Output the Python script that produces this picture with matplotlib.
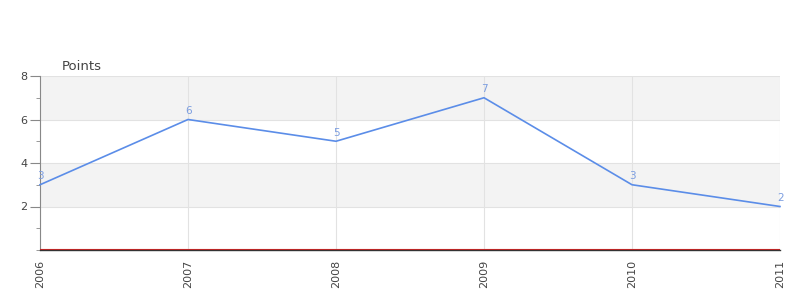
import matplotlib
matplotlib.use('Agg')
import matplotlib.pyplot as plt
from matplotlib.ticker import MultipleLocator

# data
years = [2006, 2007, 2008, 2009, 2010, 2011]
points = [3, 6, 5, 7, 3, 2]
y_ticks = [2, 4, 6, 8]

line_col = '#5b8de8'
label_col = '#7b9de0'
text_col = '#444444'
grid_col = '#e2e2e2'

fig = plt.figure(figsize=[8, 3], dpi=100)
ax = fig.add_axes([0.05, 1/6, 0.925, 0.58])

ax.set_xlim(years[0], years[-1])
ax.set_ylim(0, 8)

# alternating bands
for lo in [2, 6]:
    ax.axhspan(lo, lo + 2, color='#f3f3f3', zorder=0, lw=0)

ax.set_yticks(y_ticks)
ax.yaxis.set_minor_locator(MultipleLocator(1))
ax.set_xticks(years)
ax.set_xticklabels([str(y) for y in years], rotation=90)

ax.grid(True, which='major', color=grid_col, lw=0.8, zorder=1)
ax.set_axisbelow(True)

ax.plot(years, points, color=line_col, lw=1.2, zorder=3, clip_on=False)
for x, y in zip(years, points):
    ax.annotate(str(y), (x, y), xytext=(0.5, 2.5), textcoords='offset points',
                ha='center', va='bottom', fontsize=7.5, color=label_col)

ax.axhline(0.045, color='#dd2222', lw=0.8, zorder=4)

for s in ['top', 'right']:
    ax.spines[s].set_visible(False)
ax.spines['left'].set_color('#888888')
ax.spines['bottom'].set_color('#333333')
ax.spines['bottom'].set_linewidth(1.0)
ax.spines['bottom'].set_zorder(5)

ax.tick_params(axis='y', which='major', length=7, color='#888888', labelsize=8, labelcolor=text_col, pad=2)
ax.tick_params(axis='y', which='minor', length=3, color='#888888')
ax.tick_params(axis='x', length=0, labelsize=8, labelcolor=text_col, pad=7)

fig.text(62/800, 1 - 66/300, 'Points', fontsize=9.5, color=text_col, va='center', ha='left')

fig.savefig('out.png', dpi=100)
